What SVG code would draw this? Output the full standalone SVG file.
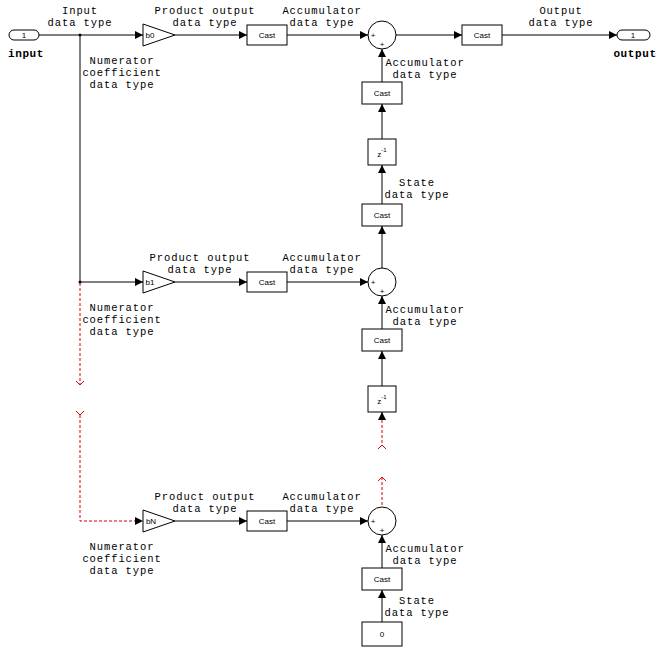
<svg xmlns="http://www.w3.org/2000/svg" width="662" height="652" viewBox="0 0 662 652">
<style>
.blk{fill:#fff;stroke:#000;stroke-width:1}
.ln{fill:none;stroke:#000;stroke-width:1}
.dl{fill:none;stroke:#e00000;stroke-width:1;stroke-dasharray:3,2}
.lbl{font-family:"Liberation Mono","Courier New",monospace;font-size:10.5px;letter-spacing:0.9px;fill:#000;text-anchor:middle}
.bt{font-family:"Liberation Sans",Arial,sans-serif;font-size:8px;fill:#000;text-anchor:middle}
.pn{font-family:"Liberation Mono","Courier New",monospace;font-size:11px;letter-spacing:0.6px;font-weight:bold;fill:#000;text-anchor:middle}
.sg{font-family:"Liberation Sans",Arial,sans-serif;font-size:8px;fill:#000;text-anchor:middle}
</style>
<defs>
<marker id="ah" markerWidth="8" markerHeight="8" refX="8" refY="4" orient="auto" markerUnits="userSpaceOnUse">
<path d="M0,0 L8,4 L0,8 Z" fill="#000"/>
</marker>
</defs>
<rect width="662" height="652" fill="#fff"/>
<g id="connectors">
<line class="ln" x1="39" y1="35" x2="143" y2="35" marker-end="url(#ah)"/>
<line class="ln" x1="175" y1="35" x2="247" y2="35" marker-end="url(#ah)"/>
<line class="ln" x1="287" y1="35" x2="368" y2="35" marker-end="url(#ah)"/>
<line class="ln" x1="396" y1="35" x2="462" y2="35" marker-end="url(#ah)"/>
<line class="ln" x1="502" y1="35" x2="617" y2="35" marker-end="url(#ah)"/>
<line class="ln" x1="80" y1="35" x2="80" y2="282"/>
<circle cx="80" cy="35" r="1.5" fill="#000"/>
<circle cx="80" cy="282" r="1.5" fill="#000"/>
<line class="ln" x1="80" y1="282" x2="143" y2="282" marker-end="url(#ah)"/>
<line class="ln" x1="175" y1="282" x2="247" y2="282" marker-end="url(#ah)"/>
<line class="ln" x1="287" y1="282" x2="368" y2="282" marker-end="url(#ah)"/>
<line class="ln" x1="382" y1="82" x2="382" y2="49" marker-end="url(#ah)"/>
<line class="ln" x1="382" y1="139" x2="382" y2="104" marker-end="url(#ah)"/>
<line class="ln" x1="382" y1="204" x2="382" y2="165" marker-end="url(#ah)"/>
<line class="ln" x1="382" y1="268" x2="382" y2="226" marker-end="url(#ah)"/>
<line class="ln" x1="382" y1="329" x2="382" y2="296" marker-end="url(#ah)"/>
<line class="ln" x1="382" y1="386" x2="382" y2="351" marker-end="url(#ah)"/>
<line class="dl" x1="80" y1="283" x2="80" y2="385"/>
<path d="M76,381 L80,385 L84,381" fill="none" stroke="#e00000"/>
<path d="M76,411 L80,415 L84,411" fill="none" stroke="#e00000"/>
<path class="dl" d="M80,415 L80,521 L136,521"/>
<path d="M135,517 L143,521 L135,525 Z" fill="#000"/>
<line class="ln" x1="382" y1="420" x2="382" y2="412" marker-end="url(#ah)"/>
<line class="dl" x1="382" y1="420" x2="382" y2="445"/>
<path d="M378,449 L382,445 L386,449" fill="none" stroke="#e00000"/>
<path d="M378,481 L382,477 L386,481" fill="none" stroke="#e00000"/>
<line class="dl" x1="382" y1="477" x2="382" y2="507"/>
<line class="ln" x1="175" y1="521" x2="247" y2="521" marker-end="url(#ah)"/>
<line class="ln" x1="287" y1="521" x2="368" y2="521" marker-end="url(#ah)"/>
<line class="ln" x1="382" y1="568" x2="382" y2="535" marker-end="url(#ah)"/>
<line class="ln" x1="382" y1="622" x2="382" y2="590" marker-end="url(#ah)"/>
</g>
<g id="input">
<rect class="blk" x="9" y="30" width="30" height="10" rx="5"/>
<text class="bt" x="24" y="38">1</text>
<text class="pn" x="26" y="57">input</text>
</g>
<g id="output">
<rect class="blk" x="617" y="30" width="33" height="10" rx="5"/>
<text class="bt" x="633" y="38">1</text>
<text class="pn" x="635" y="57">output</text>
</g>
<g id="b0">
<polygon class="blk" points="143,24 175,35 143,46"/>
<text class="bt" x="150" y="38">b0</text>
</g>
<g id="b1">
<polygon class="blk" points="143,271 175,282 143,293"/>
<text class="bt" x="150" y="285">b1</text>
</g>
<g id="bN">
<polygon class="blk" points="143,510 175,521 143,532"/>
<text class="bt" x="151" y="524">bN</text>
</g>
<g id="cast1"><rect class="blk" x="247" y="25" width="40" height="20"/><text class="bt" x="267" y="38">Cast</text></g>
<g id="cast2"><rect class="blk" x="247" y="272" width="40" height="20"/><text class="bt" x="267" y="285">Cast</text></g>
<g id="cast3"><rect class="blk" x="247" y="511" width="40" height="20"/><text class="bt" x="267" y="524">Cast</text></g>
<g id="castout"><rect class="blk" x="462" y="25" width="40" height="20"/><text class="bt" x="482" y="38">Cast</text></g>
<g id="sum1"><circle class="blk" cx="382" cy="35" r="14"/><text class="sg" x="373" y="38">+</text><text class="sg" x="382" y="47">+</text></g>
<g id="sum2"><circle class="blk" cx="382" cy="282" r="14"/><text class="sg" x="373" y="285">+</text><text class="sg" x="382" y="294">+</text></g>
<g id="sum3"><circle class="blk" cx="382" cy="521" r="14"/><text class="sg" x="373" y="524">+</text><text class="sg" x="382" y="533">+</text></g>
<g id="castacc1"><rect class="blk" x="362" y="82" width="40" height="22"/><text class="bt" x="382" y="96">Cast</text></g>
<g id="delay1"><rect class="blk" x="368" y="139" width="28" height="26"/><text class="bt" x="382" y="157">z<tspan font-size="6" dy="-5">-1</tspan></text></g>
<g id="caststate1"><rect class="blk" x="362" y="204" width="40" height="22"/><text class="bt" x="382" y="218">Cast</text></g>
<g id="castacc2"><rect class="blk" x="362" y="329" width="40" height="22"/><text class="bt" x="382" y="343">Cast</text></g>
<g id="delay2"><rect class="blk" x="368" y="386" width="28" height="26"/><text class="bt" x="382" y="404">z<tspan font-size="6" dy="-5">-1</tspan></text></g>
<g id="castacc3"><rect class="blk" x="362" y="568" width="40" height="22"/><text class="bt" x="382" y="582">Cast</text></g>
<g id="zero"><rect class="blk" x="362" y="622" width="40" height="24"/><text class="bt" x="382" y="637">0</text></g>
<g id="labels">
<text class="lbl" x="80" y="14">Input<tspan x="80" dy="12">data type</tspan></text>
<text class="lbl" x="205" y="14">Product output<tspan x="205" dy="12">data type</tspan></text>
<text class="lbl" x="322" y="14">Accumulator<tspan x="322" dy="12">data type</tspan></text>
<text class="lbl" x="561" y="14">Output<tspan x="561" dy="12">data type</tspan></text>
<text class="lbl" x="122" y="64">Numerator<tspan x="122" dy="12">coefficient</tspan><tspan x="122" dy="12">data type</tspan></text>
<text class="lbl" x="425" y="66">Accumulator<tspan x="425" dy="12">data type</tspan></text>
<text class="lbl" x="417" y="186">State<tspan x="417" dy="12">data type</tspan></text>
<text class="lbl" x="200" y="261">Product output<tspan x="200" dy="12">data type</tspan></text>
<text class="lbl" x="322" y="261">Accumulator<tspan x="322" dy="12">data type</tspan></text>
<text class="lbl" x="122" y="311">Numerator<tspan x="122" dy="12">coefficient</tspan><tspan x="122" dy="12">data type</tspan></text>
<text class="lbl" x="425" y="313">Accumulator<tspan x="425" dy="12">data type</tspan></text>
<text class="lbl" x="205" y="500">Product output<tspan x="205" dy="12">data type</tspan></text>
<text class="lbl" x="322" y="500">Accumulator<tspan x="322" dy="12">data type</tspan></text>
<text class="lbl" x="122" y="550">Numerator<tspan x="122" dy="12">coefficient</tspan><tspan x="122" dy="12">data type</tspan></text>
<text class="lbl" x="425" y="552">Accumulator<tspan x="425" dy="12">data type</tspan></text>
<text class="lbl" x="417" y="604">State<tspan x="417" dy="12">data type</tspan></text>
</g>
</svg>
